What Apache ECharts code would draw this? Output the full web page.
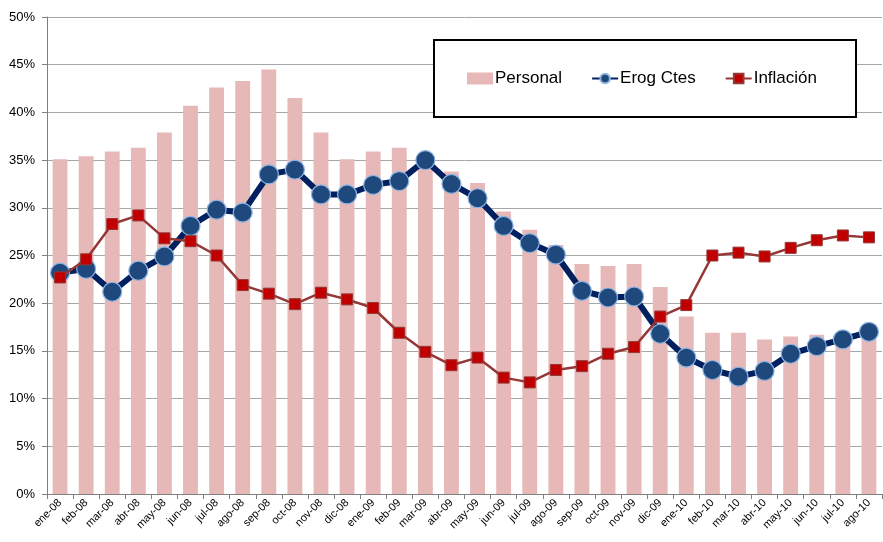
<!DOCTYPE html>
<html>
<head>
<meta charset="utf-8">
<script src="https://cdn.jsdelivr.net/npm/echarts@6/dist/echarts.min.js"></script>
<style>
  html, body { margin: 0; padding: 0; background: #fff; }
  #main { width: 883px; height: 542px; }
</style>
</head>
<body>
<div id="main"></div>
<script>
// meses
var meses = [
  "ene-08", "feb-08", "mar-08", "abr-08", "may-08", "jun-08", "jul-08", "ago-08",
  "sep-08", "oct-08", "nov-08", "dic-08", "ene-09", "feb-09", "mar-09", "abr-09",
  "may-09", "jun-09", "jul-09", "ago-09", "sep-09", "oct-09", "nov-09", "dic-09",
  "ene-10", "feb-10", "mar-10", "abr-10", "may-10", "jun-10", "jul-10", "ago-10"
];
// Personal (barras)
var personal = [
  35.1, 35.4, 35.9, 36.3, 37.9, 40.7, 42.6, 43.3, 44.5, 41.5, 37.9, 35.1,
  35.9, 36.3, 34.8, 33.8, 32.6, 29.6, 27.7, 26.1, 24.1, 23.9, 24.1, 21.7,
  18.6, 16.9, 16.9, 16.2, 16.5, 16.7, 16.9, 16.9
];
// Erog Ctes
var erogCtes = [
  23.2, 23.6, 21.2, 23.4, 24.9, 28.1, 29.8, 29.5, 33.5, 34.0, 31.4, 31.4,
  32.4, 32.8, 35.0, 32.5, 31.0, 28.1, 26.3, 25.1, 21.3, 20.6, 20.7, 16.8,
  14.3, 13.0, 12.3, 12.9, 14.7, 15.5, 16.2, 17.0
];
// Inflación
var inflacion = [
  22.7, 24.6, 28.3, 29.2, 26.8, 26.5, 25.0, 21.9, 21.0, 19.9, 21.1, 20.4,
  19.5, 16.9, 14.9, 13.5, 14.3, 12.2, 11.7, 13.0, 13.4, 14.7, 15.4, 18.6,
  19.8, 25.0, 25.3, 24.9, 25.8, 26.6, 27.1, 26.9
];

var fuente = "Liberation Sans";
var myChart = echarts.init(document.getElementById("main"));

var option = {
  animation: false,
  backgroundColor: "#fff",
  textStyle: { fontFamily: fuente },
  grid: { left: 47, right: 1, top: 17, bottom: 48 },
  // recuadro de la leyenda
  graphic: [{
    type: "rect",
    left: 433, top: 39,
    shape: { width: 422, height: 77 },
    style: { fill: "#fff", stroke: "#000", lineWidth: 2 },
    z: 90
  }],
  legend: {
    left: 462, top: 65,
    itemGap: 29,
    itemWidth: 26,
    itemHeight: 12,
    z: 100,
    textStyle: { fontFamily: fuente, fontSize: 17, color: "#000", padding: [0, 0, 0, -3] },
    data: [{ name: "Personal", icon: "rect" }, "Erog Ctes", "Inflación"]
  },
  xAxis: {
    type: "category",
    data: meses,
    boundaryGap: true,
    axisLine: { lineStyle: { color: "#808080", width: 1 } },
    axisTick: { show: true, alignWithLabel: false, length: 5, lineStyle: { color: "#808080" } },
    axisLabel: { rotate: 45, fontSize: 11, color: "#000", margin: 7, interval: 0, fontFamily: fuente }
  },
  yAxis: {
    type: "value",
    min: 0, max: 50, interval: 5,
    axisLine: { show: true, lineStyle: { color: "#808080" } },
    axisTick: { show: true, inside: false, length: 5, lineStyle: { color: "#808080" } },
    axisLabel: { formatter: "{value}%", fontSize: 13, color: "#000", margin: 12, fontFamily: fuente },
    splitLine: { lineStyle: { color: "#a6a6a6", width: 1 } }
  },
  series: [
    {
      name: "Personal",
      type: "bar",
      data: personal,
      barCategoryGap: "43%",
      itemStyle: { color: "#e6b9b8" }
    },
    {
      name: "Erog Ctes",
      type: "line",
      data: erogCtes,
      symbol: "circle",
      symbolSize: 19,
      lineStyle: { color: "#002060", width: 6 },
      itemStyle: { color: "#1f497d", borderColor: "#8db4e2", borderWidth: 1.2 },
      z: 3
    },
    {
      name: "Inflación",
      type: "line",
      data: inflacion,
      symbol: "rect",
      symbolSize: 11,
      lineStyle: { color: "#953735", width: 2.5 },
      itemStyle: { color: "#c00000", borderColor: "#953735", borderWidth: 1 },
      z: 4
    }
  ]
};
myChart.setOption(option);
</script>
</body>
</html>
